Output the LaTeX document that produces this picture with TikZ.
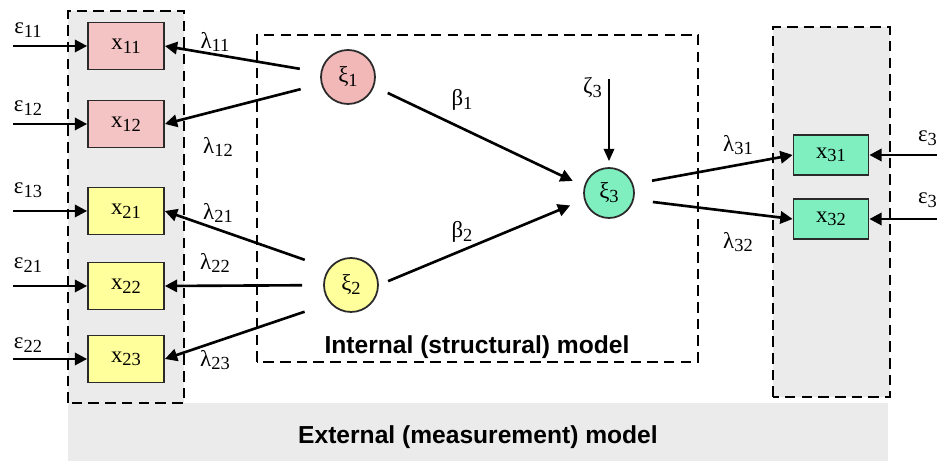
\documentclass[tikz,border=0pt]{standalone}
\usepackage{fontspec}
\setmainfont{Liberation Serif}
\setsansfont{Liberation Sans}
\usetikzlibrary{arrows.meta, positioning, shapes.geometric, calc}
\definecolor{mdpink}{HTML}{F4C3C3}
\definecolor{mdpinkc}{HTML}{F2B8B8}
\definecolor{mdyellow}{HTML}{FFFF9C}
\definecolor{mdgreen}{HTML}{80EFC0}
\definecolor{mdgray}{HTML}{EBEBEB}
\definecolor{mdline}{HTML}{2A2A2A}
\newcommand{\symsub}[2]{#1\raisebox{-0.35ex}{\fontsize{10.5}{12}\selectfont #2}}

\begin{document}
\begin{tikzpicture}[
  indnode/.style={rectangle, draw=mdline, line width=1pt, minimum width=1.52cm, minimum height=0.94cm, font=\fontsize{13}{15}\selectfont, inner sep=0pt},
  latnode/.style={circle, draw=mdline, line width=1pt, minimum size=1.08cm, inner sep=0pt, font=\fontsize{13}{15}\selectfont},
  modelbox/.style={draw=black, line width=1.6pt, dash pattern=on 6pt off 3.5pt},
  lbl/.style={font=\fontsize{13}{15}\selectfont, inner sep=1pt},
  modeltext/.style={font=\fontsize{14}{16}\selectfont\sffamily\bfseries},
  arr/.style={-{Triangle[length=7pt, width=7pt]}, line width=1.5pt, black},
  thinarr/.style={-{Triangle[length=7pt, width=6pt]}, line width=1.1pt, black},
]
  \useasboundingbox (0,0) rectangle (18.74,9.22);

  % Grey backgrounds and dashed model boxes
  \fill[mdgray] (1.36,0) rectangle (17.76,1.16);
  \draw[modelbox, fill=mdgray] (1.36,1.16) rectangle (3.68,9.0);
  \draw[modelbox, fill=mdgray] (15.46,1.28) rectangle (17.8,8.68);
  \draw[modelbox] (5.14,1.98) rectangle (13.96,8.52);
  \node[modeltext] (intl) at (9.54,2.28) {Internal (structural) model};
  \node[modeltext] (extl) at (9.56,0.48) {External (measurement) model};

  % Left side: indicators
  \node[indnode, fill=mdpink] (x11) at (2.52,8.30) {\symsub{x}{11}};
  \node[indnode, fill=mdpink] (x12) at (2.52,6.74) {\symsub{x}{12}};
  \node[indnode, fill=mdyellow] (x21) at (2.52,5.00) {\symsub{x}{21}};
  \node[indnode, fill=mdyellow] (x22) at (2.52,3.50) {\symsub{x}{22}};
  \node[indnode, fill=mdyellow] (x23) at (2.52,2.04) {\symsub{x}{23}};

  \coordinate (s11) at (0.26,8.30);
  \coordinate (s12) at (0.26,6.74);
  \coordinate (s13) at (0.26,5.00);
  \coordinate (s21) at (0.26,3.50);
  \coordinate (s22) at (0.26,2.04);
  \node[lbl] (e11) at (0.56,8.62) {\symsub{ε}{11}};
  \node[lbl] (e12) at (0.56,7.06) {\symsub{ε}{12}};
  \node[lbl] (e13) at (0.56,5.42) {\symsub{ε}{13}};
  \node[lbl] (e21) at (0.56,3.92) {\symsub{ε}{21}};
  \node[lbl] (e22) at (0.56,2.32) {\symsub{ε}{22}};

  \draw[arr] (s11) -- (x11);
  \draw[arr] (s12) -- (x12);
  \draw[arr] (s13) -- (x21);
  \draw[arr] (s21) -- (x22);
  \draw[arr] (s22) -- (x23);

  % Latent variables
  \node[latnode, fill=mdpinkc] (xi1) at (6.96,7.68) {\symsub{ξ}{1}};
  \node[latnode, fill=mdyellow] (xi2) at (7.02,3.52) {\symsub{ξ}{2}};
  \node[latnode, fill=mdgreen, minimum size=1.0cm] (xi3) at (12.18,5.36) {\symsub{ξ}{3}};

  \draw[arr, shorten <=0.42cm] (xi1) -- (x11.east);
  \draw[arr, shorten <=0.42cm] (xi1) -- (x12.east);
  \draw[arr, shorten <=0.98cm] ($(xi2)+(0,0.18)$) -- (x21.east);
  \draw[arr, shorten <=0.42cm] (xi2) -- (x22.east);
  \draw[arr, shorten <=0.98cm] ($(xi2)+(0,-0.22)$) -- (x23.east);
  \node[lbl] (l11) at (4.30,8.38) {\symsub{λ}{11}};
  \node[lbl] (l12) at (4.36,6.28) {\symsub{λ}{12}};
  \node[lbl] (l21) at (4.36,4.96) {\symsub{λ}{21}};
  \node[lbl] (l22) at (4.30,3.96) {\symsub{λ}{22}};
  \node[lbl] (l23) at (4.30,2.02) {\symsub{λ}{23}};

  % Structural paths
  \draw[arr, shorten <=0.3cm, shorten >=0.25cm] (xi1.-20) -- (xi3.165);
  \draw[arr, shorten <=0.2cm, shorten >=0.3cm] (xi2.east) -- (xi3.195);
  \node[lbl] (b1) at (9.24,7.22) {\symsub{β}{1}};
  \node[lbl] (b2) at (9.24,4.58) {\symsub{β}{2}};

  \coordinate (z3) at (12.18,7.64);
  \node[lbl, anchor=east] (zeta3) at (12.08,7.46) {\symsub{ζ}{3}};
  \draw[thinarr, shorten >=0.12cm] (z3) -- (xi3);

  % Right side: indicators
  \node[indnode, fill=mdgreen, minimum width=1.5cm, minimum height=0.8cm] (x31) at (16.62,6.12) {\symsub{x}{31}};
  \node[indnode, fill=mdgreen, minimum width=1.5cm, minimum height=0.8cm] (x32) at (16.62,4.84) {\symsub{x}{32}};
  \draw[arr, shorten <=0.38cm] (xi3.20) -- (x31.west);
  \draw[arr, shorten <=0.38cm] (xi3.-15) -- (x32.west);
  \node[lbl] (l31) at (14.76,6.32) {\symsub{λ}{31}};
  \node[lbl] (l32) at (14.76,4.38) {\symsub{λ}{32}};

  \coordinate (s31) at (18.9,6.12);
  \coordinate (s32) at (18.9,4.84);
  \node[lbl, anchor=west] (e31) at (18.32,6.46) {\symsub{ε}{31}};
  \node[lbl, anchor=west] (e32) at (18.32,5.22) {\symsub{ε}{32}};
  \draw[arr] (s31) -- (x31);
  \draw[arr] (s32) -- (x32);
\end{tikzpicture}
\end{document}
